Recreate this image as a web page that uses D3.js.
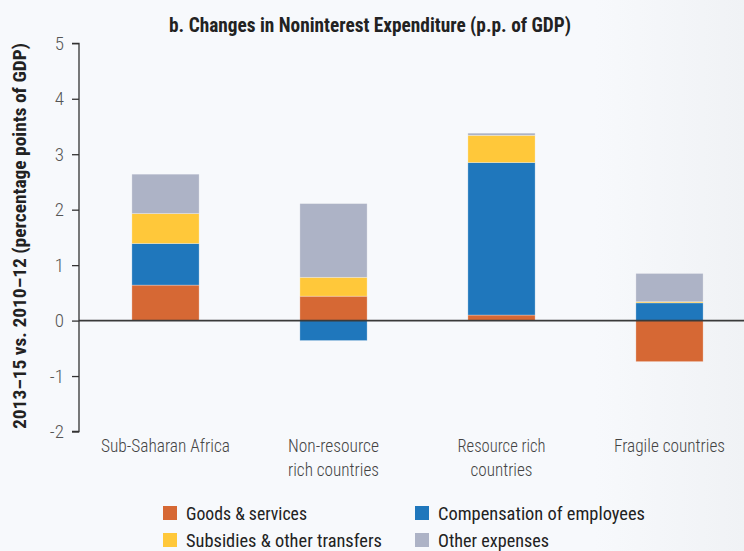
<!DOCTYPE html>
<html>
<head>
<meta charset="utf-8">
<script src="https://cdn.jsdelivr.net/npm/d3@7"></script>
<style>
  html, body { margin: 0; padding: 0; background: #F7F9FC; }
  svg { display: block; }
  text { font-family: "Liberation Sans Narrow", "Roboto Condensed", Roboto, "Liberation Sans", sans-serif; }
</style>
</head>
<body>
<svg id="chart" width="744" height="551"></svg>
<script>
// ---- data ----
const categories = ["Sub-Saharan Africa", "Non-resource\nrich countries", "Resource rich\ncountries", "Fragile countries"];
const seriesNames = ["Goods & services", "Compensation of employees", "Subsidies & other transfers", "Other expenses"];
const goodsServices = [0.64, 0.44, 0.10, -0.74];
const compensation = [0.75, -0.36, 2.75, 0.32];
const subsidies = [0.54, 0.34, 0.49, 0.02];
const otherExpenses = [0.71, 1.33, 0.04, 0.51];
const yTicks = [-2, -1, 0, 1, 2, 3, 4, 5];
const colors = ["#D66834", "#1F77BC", "#FFC83A", "#ADB3C6"];

// ---- build ----
const svg = d3.select("#chart");
const W = 744, H = 551;

const defs = svg.append("defs");
const grad = defs.append("linearGradient").attr("id", "bg").attr("x1", 0).attr("x2", 1).attr("y1", 0).attr("y2", 0);
grad.append("stop").attr("offset", "0.8").attr("stop-color", "#F7F9FC");
grad.append("stop").attr("offset", "1").attr("stop-color", "#F0F2F5");
svg.append("rect").attr("width", W).attr("height", H).attr("fill", "url(#bg)");

const table = categories.map((c, i) => ({
  cat: c,
  [seriesNames[0]]: goodsServices[i],
  [seriesNames[1]]: compensation[i],
  [seriesNames[2]]: subsidies[i],
  [seriesNames[3]]: otherExpenses[i]
}));

const x = d3.scaleBand().domain(categories).range([81.5, 753.5]).paddingInner(0.6).paddingOuter(0.3);
const y = d3.scaleLinear().domain([-2, 5]).range([431.5, 43.3]);
const color = d3.scaleOrdinal().domain(seriesNames).range(colors);

const stack = d3.stack().keys(seriesNames).offset(d3.stackOffsetDiverging);
const stacked = stack(table);

const gBars = svg.append("g");
gBars.selectAll("g.series").data(stacked).join("g")
  .attr("class", "series")
  .attr("fill", d => color(d.key))
  .selectAll("rect").data(d => d).join("rect")
  .attr("x", d => x(d.data.cat))
  .attr("width", x.bandwidth())
  .attr("y", d => y(Math.max(d[0], d[1])))
  .attr("height", d => Math.abs(y(d[0]) - y(d[1])))
  .attr("stroke", "rgba(255,255,255,0.35)")
  .attr("stroke-width", 0.8);

// zero line
svg.append("line")
  .attr("x1", 79).attr("x2", W)
  .attr("y1", y(0)).attr("y2", y(0))
  .attr("stroke", "#3a3a3a").attr("stroke-width", 1.6);

// y axis
const yAxis = d3.axisLeft(y).tickValues(yTicks).tickSize(7).tickPadding(8)
  .tickFormat(d => d < 0 ? "-" + Math.abs(d) : d);
const gy = svg.append("g").attr("transform", "translate(79,0)").call(yAxis);
gy.select(".domain").attr("stroke", "#333").attr("stroke-width", 1.3).attr("d", `M-7,${y(5)}H0V${y(-2)}H-7`);
gy.selectAll(".tick line").attr("stroke", "#333").attr("stroke-width", 1.3);
gy.selectAll(".tick text")
  .attr("fill", "#555").attr("font-size", 19).attr("font-weight", 300)
  .style("font-family", '"Liberation Sans Narrow", "Roboto Condensed", Roboto, sans-serif');

// y label
svg.append("text")
  .attr("transform", `translate(26,${236}) rotate(-90)`)
  .attr("text-anchor", "middle")
  .attr("font-size", 19).attr("font-weight", "bold").attr("fill", "#222")
  .attr("textLength", 386).attr("lengthAdjust", "spacingAndGlyphs")
  .text("2013–15 vs. 2010–12 (percentage points of GDP)");

// title
svg.append("text")
  .attr("x", 370).attr("y", 32)
  .attr("text-anchor", "middle")
  .attr("font-size", 20).attr("font-weight", "bold").attr("fill", "#222")
  .attr("textLength", 402).attr("lengthAdjust", "spacingAndGlyphs")
  .text("b. Changes in Noninterest Expenditure (p.p. of GDP)");

// category labels (line widths measured from reference)
const catWidths = [[129], [91, 91], [88, 62], [111]];
const gCat = svg.append("g");
categories.forEach((c, ci) => {
  const lines = c.split("\n");
  const cx = x(c) + x.bandwidth() / 2;
  lines.forEach((ln, i) => {
    gCat.append("text")
      .attr("x", cx)
      .attr("y", 452 + i * 24)
      .attr("text-anchor", "middle")
      .attr("font-size", 19).attr("font-weight", 300).attr("fill", "#444")
      .attr("textLength", catWidths[ci][i]).attr("lengthAdjust", "spacingAndGlyphs")
      .text(ln);
  });
});

// legend
const legendPos = [[163, 506], [415, 506], [163, 533], [415, 533]];
const legendWidths = [121, 207, 196, 111];
const gLeg = svg.append("g");
seriesNames.forEach((name, i) => {
  const [lx, ly] = legendPos[i];
  gLeg.append("rect").attr("x", lx).attr("y", ly).attr("width", 14).attr("height", 14).attr("fill", color(name));
  gLeg.append("text").attr("x", lx + 23).attr("y", ly + 13.5)
    .attr("font-size", 18.5).attr("fill", "#222")
    .attr("textLength", legendWidths[i]).attr("lengthAdjust", "spacingAndGlyphs")
    .text(name);
});
</script>
</body>
</html>
